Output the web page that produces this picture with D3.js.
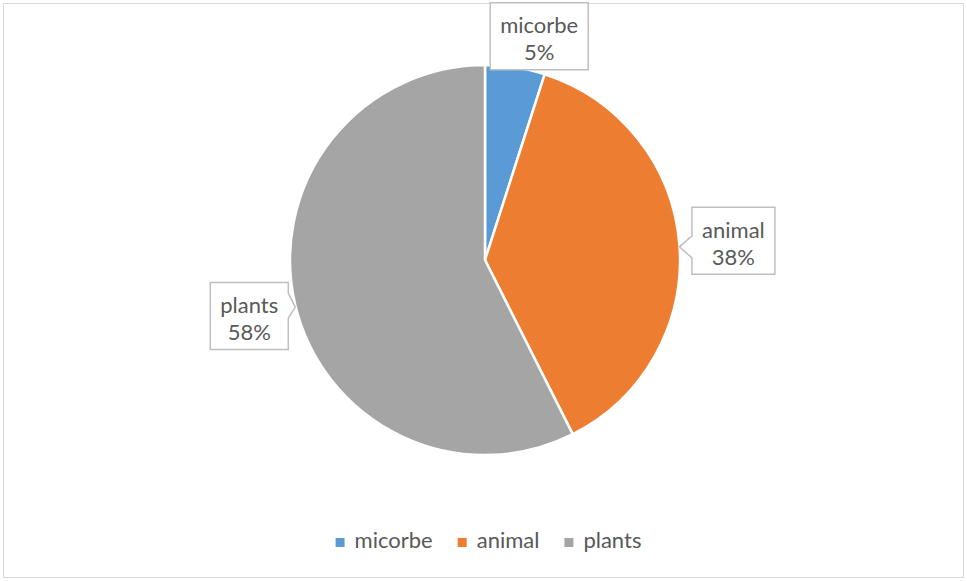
<!DOCTYPE html>
<html>
<head>
<meta charset="utf-8">
<script src="https://cdn.jsdelivr.net/npm/d3@7"></script>
<style>
  html, body { margin: 0; padding: 0; background: #fff; }
  svg { display: block; }
  text { font-family: Lato, "Open Sans", sans-serif; fill: #595959; }
</style>
</head>
<body>
<svg id="chart" width="967" height="581"></svg>
<script>
// Share of sources
const categories = ["micorbe", "animal", "plants"];
const values = [5, 38, 58];
const colors = ["#5B9BD5", "#ED7D31", "#A5A5A5"];

const W = 967, H = 581;
const cx = 485, cy = 260, R = 195;
const fontSize = 22;

const svg = d3.select("#chart");

// chart frame
svg.append("rect")
  .attr("x", 3.5).attr("y", 3.5)
  .attr("width", W - 7).attr("height", H - 7)
  .attr("fill", "#fff").attr("stroke", "#d9d9d9").attr("stroke-width", 1);

const pie = d3.pie().sort(null).value(d => d)(values);
const arc = d3.arc().innerRadius(0).outerRadius(R);
const color = d3.scaleOrdinal().domain(categories).range(colors);

const g = svg.append("g").attr("transform", `translate(${cx},${cy})`);
g.selectAll("path.slice")
  .data(pie)
  .join("path")
  .attr("class", "slice")
  .attr("d", arc)
  .attr("fill", (d, i) => color(categories[i]))
  .attr("stroke", "#fff")
  .attr("stroke-width", 2.5)
  .attr("stroke-linejoin", "round");

// callout labels: box offset from the slice's outer mid point, and pointer side
const callout = [
  { dx: 24, dy: -31, pointer: "none" },
  { dx: 54, dy: -4, pointer: "left" },
  { dx: -46, dy: 11, pointer: "right" }
];

const boxH = 67, pad = 10;
const labels = svg.append("g");
pie.forEach((d, i) => {
  const mid = (d.startAngle + d.endAngle) / 2;
  const ax = cx + R * Math.sin(mid);
  const ay = cy - R * Math.cos(mid);
  const c = callout[i];
  const bx = ax + c.dx, by = ay + c.dy;

  const lg = labels.append("g");
  const t1 = lg.append("text").attr("text-anchor", "middle")
    .attr("x", bx).attr("y", by - 3)
    .attr("font-size", fontSize).text(categories[i]);
  lg.append("text").attr("text-anchor", "middle")
    .attr("x", bx).attr("y", by + 24)
    .attr("font-size", fontSize).text(values[i] + "%");
  const tw = t1.node().getComputedTextLength();
  const bw = Math.round(tw + 2 * pad);
  const x0 = bx - bw / 2, x1 = bx + bw / 2;
  const y0 = by - boxH / 2, y1 = by + boxH / 2;
  let pts;
  if (c.pointer === "left") {
    const py = ay + 2;
    pts = [[x0, y0], [x1, y0], [x1, y1], [x0, y1], [x0, py + 11], [ax, py], [x0, py - 11]];
  } else if (c.pointer === "right") {
    const py = ay + 2;
    pts = [[x0, y0], [x1, y0], [x1, py - 14], [ax, py], [x1, py + 11], [x1, y1], [x0, y1]];
  } else {
    pts = [[x0, y0], [x1, y0], [x1, y1], [x0, y1]];
  }
  lg.insert("path", "text")
    .attr("d", d3.line()(pts) + "Z")
    .attr("fill", "#fff")
    .attr("stroke", "#bfbfbf")
    .attr("stroke-width", 1.5)
    .attr("stroke-linejoin", "miter");
});

// legend
const legend = svg.append("g").attr("transform", "translate(0,548)");
const items = legend.selectAll("g").data(categories).join("g");
items.append("rect")
  .attr("width", 9).attr("height", 9).attr("y", -10)
  .attr("fill", d => color(d));
items.append("text")
  .attr("x", 19).attr("y", 0)
  .attr("font-size", fontSize)
  .text(d => d);
// lay items out in a centred row
let widths = [];
items.each(function () { widths.push(this.getBBox().width); });
const gap = 25;
const total = d3.sum(widths) + gap * (widths.length - 1);
let xPos = (W - total) / 2 + 5;
items.attr("transform", (d, i) => {
  const t = `translate(${xPos},0)`;
  xPos += widths[i] + gap;
  return t;
});
</script>
</body>
</html>
